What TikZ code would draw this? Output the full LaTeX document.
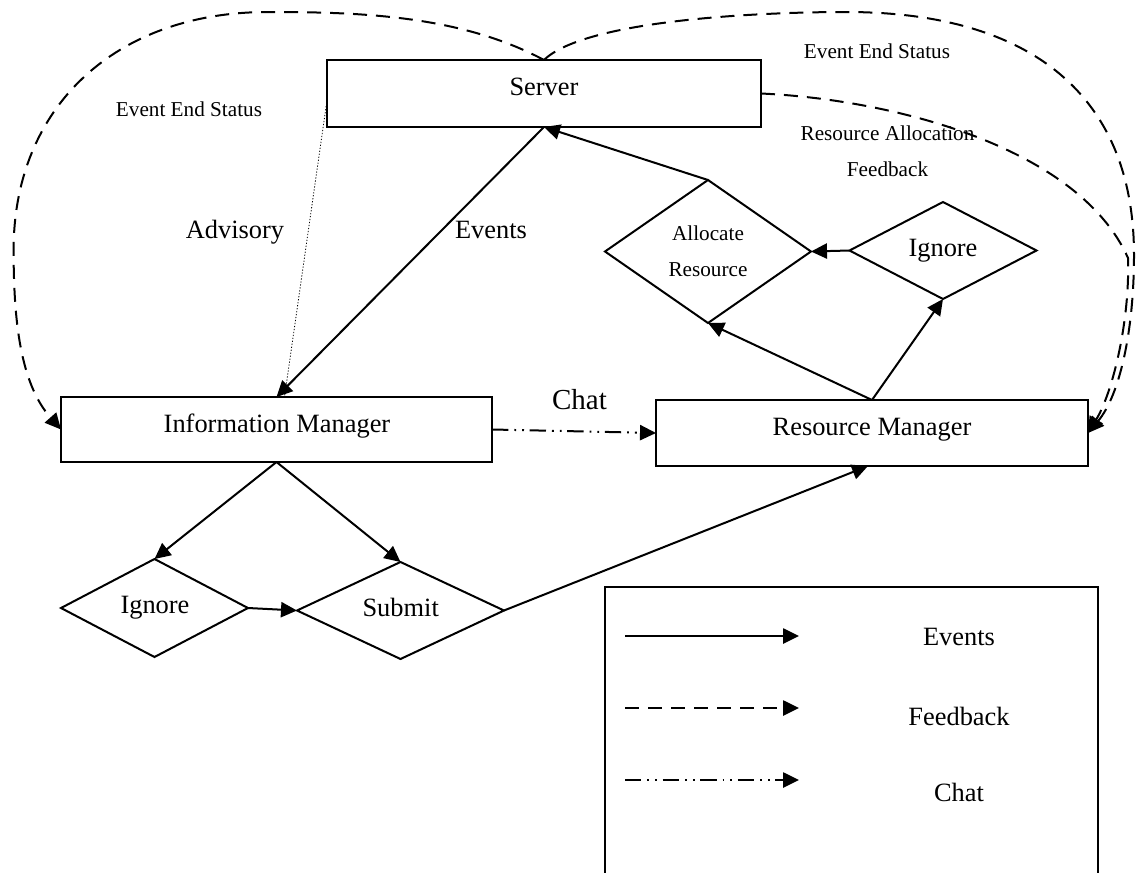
\documentclass[tikz,border=0pt]{standalone}
\usepackage{fontspec}
\setmainfont{Liberation Serif}
\usetikzlibrary{arrows.meta,shapes.geometric,calc}
\begin{document}
\begin{tikzpicture}[x=0.5pt,y=-0.5pt,
  every node/.style={inner sep=0pt,outer sep=0pt},
  >={Triangle[length=8pt,width=7.6pt]},
  box/.style={draw,line width=1pt,rectangle},
  choice/.style={draw,line width=1pt,diamond,shape aspect=1},
  evt/.style={line width=1pt,->},
  fb/.style={line width=1pt,->,dash pattern=on 7pt off 4.5pt},
  chatline/.style={line width=1pt,->,dash pattern=on 8.2pt off 3pt on 0.9pt off 3pt on 0.9pt off 2.8pt},
  adv/.style={line width=0.4pt,dash pattern=on 0.6pt off 0.9pt},
  big/.style={font=\fontsize{13.2pt}{15.8pt}\selectfont,anchor=base},
  bigger/.style={font=\fontsize{14.5pt}{17pt}\selectfont,anchor=base},
  small/.style={font=\fontsize{10.6pt}{12.7pt}\selectfont,anchor=base}]
\useasboundingbox (0,0) rectangle (1136,873);

% main blocks
\node[box,minimum width=217pt,minimum height=33.5pt] (server) at (544,93.5) {};
\node[box,minimum width=215.5pt,minimum height=32.5pt] (im) at (276.5,429.5) {};
\node[box,minimum width=216pt,minimum height=33pt] (rm) at (872,433) {};

% decisions
\node[choice,minimum width=103pt,minimum height=71.5pt] (alloc) at (708,251.5) {};
\node[choice,minimum width=93.5pt,minimum height=48.5pt] (ignr) at (943,250.5) {};
\node[choice,minimum width=93.5pt,minimum height=49pt] (ignl) at (154.5,608) {};
\node[choice,minimum width=103.5pt,minimum height=48.5pt] (submit) at (400.5,610.5) {};

% block texts
\node[big] (tserver) at (544,95) {Server};
\node[big] (tim) at (277,432) {Information Manager};
\node[big] (trm) at (872,435) {Resource Manager};
\node[small] (talloc1) at (708,240) {Allocate};
\node[small] (talloc2) at (708,276.7) {Resource};
\node[big] (tignr) at (943,256.7) {Ignore};
\node[big] (tignl) at (155,613) {Ignore};
\node[big] (tsubmit) at (400.7,616) {Submit};

% connector labels
\node[small] (ees1) at (189,116.7) {Event End Status};
\node[small] (ees2) at (877,58.3) {Event End Status};
\node[small] (raf1) at (887.5,140) {Resource Allocation};
\node[small] (raf2) at (887.5,176.7) {Feedback};
\node[big] (tadv) at (235,238) {Advisory};
\node[big] (tev) at (491,238) {Events};
\node[bigger] (tchat) at (579.5,409) {Chat};

% events
\draw[evt] (server.south) -- (im.north);
\draw[evt] (alloc.north) -- (server.south);
\draw[evt] (im.south) -- (ignl.north);
\draw[evt] (im.south) -- (submit.north);
\draw[evt] (ignl.east) -- (submit.west);
\draw[evt] (submit.east) -- ([xshift=-2pt]rm.south);
\draw[evt] (rm.north) -- (alloc.south);
\draw[evt] (rm.north) -- (ignr.south);
\draw[evt] (ignr.west) -- (alloc.east);

% advisory
\draw[adv] ($(server.north west)!0.6!(server.south west)$) -- ([xshift=4pt]im.north);

% chat
\draw[chatline] (im.east) -- (rm.west);

% feedback: event end status
\draw[fb] (server.north) .. controls (460,15) and (358,12) .. (268,12)
  .. controls (115.4,12) and (13.6,107) .. (13.6,250)
  .. controls (13.6,320) and (20,383) .. (im.west);
\draw[fb] (server.north) .. controls (585,20) and (760,12) .. (846,12)
  .. controls (1033,12) and (1134,97) .. (1134,255)
  .. controls (1134,330) and (1120,395) .. (rm.east);
% feedback: resource allocation
\draw[fb] (server.east) .. controls (900,100) and (1080,150) .. (1128,258)
  .. controls (1130,320) and (1113,392) .. (rm.east);

% legend
\draw[line width=1pt] (605,873) -- (605,587) -- (1098,587) -- (1098,873);
\coordinate (le1) at (625,636);
\coordinate (le2) at (799,636);
\coordinate (lf1) at (625,708);
\coordinate (lf2) at (799,708);
\coordinate (lc1) at (625,780);
\coordinate (lc2) at (799,780);
\draw[evt] (le1) -- (le2);
\draw[fb] (lf1) -- (lf2);
\draw[chatline] (lc1) -- (lc2);
\node[big] (lgev) at (959,645.7) {Events};
\node[big] (lgfb) at (959,725) {Feedback};
\node[big] (lgch) at (959,801.7) {Chat};
\end{tikzpicture}
\end{document}
